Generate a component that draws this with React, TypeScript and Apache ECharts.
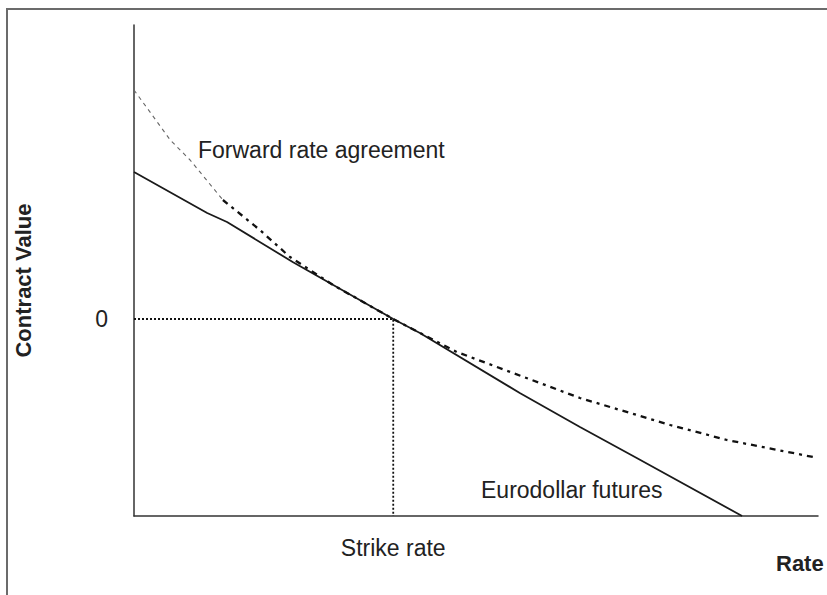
import React, { useEffect, useRef } from "react";
import * as echarts from "echarts";

// Rate axis positions (0..100) and contract values (0 = at strike)
const strikeRate = 37.9;
const rateMax = 100;
const valueMin = -19.7;
const valueMax = 29.4;

const euroRates = [0, 10.7, 13.6, 23.2, 37.9, 41.8, 56.4, 65.2, 73.5, 88.9];
const euroValues = [14.7, 10.6, 9.7, 5.7, 0, -1.4, -7.4, -10.8, -13.9, -19.7];

const fraUpperRates = [0, 5.3, 8.2, 13.0];
const fraUpperValues = [22.9, 17.9, 15.9, 11.9];

const fraLowerRates = [13.0, 18.4, 22.8, 29.1, 37.9, 47.2, 65.2, 78.4, 86.7, 99.3];
const fraLowerValues = [11.9, 8.9, 6.2, 3.4, 0, -3.3, -7.9, -10.6, -12.1, -13.8];

const yTickLabels = [0];
const xTickLabels = ["Strike rate"];

const FONT = "'Liberation Sans', Arial, sans-serif";
const TEXT = "#222";

export default function App() {
  const ref = useRef<HTMLDivElement>(null);
  useEffect(() => {
    if (!ref.current) return;
    const chart = echarts.init(ref.current, undefined, { renderer: "svg" });
    const pair = (xs: number[], ys: number[]) => xs.map((x, i) => [x, ys[i]]);
    chart.setOption({
      animation: false,
      backgroundColor: "#fff",
      grid: {
        left: 134,
        right: 9,
        top: 25,
        bottom: 79,
        containLabel: false,
        outerBoundsMode: "none",
      },
      xAxis: {
        type: "value",
        min: 0,
        max: rateMax,
        name: "Rate",
        nameLocation: "end",
        nameGap: -42,
        nameTextStyle: {
          fontFamily: FONT,
          fontSize: 22,
          fontWeight: "bold",
          color: TEXT,
          align: "left",
          verticalAlign: "top",
          padding: [36, 0, 0, 0],
        },
        axisLine: { show: true, onZero: false, lineStyle: { color: "#333", width: 1.5 } },
        axisTick: { show: false },
        splitLine: { show: false },
        axisLabel: {
          customValues: [strikeRate],
          formatter: () => xTickLabels[0],
          margin: 20,
          fontFamily: FONT,
          fontSize: 23,
          color: TEXT,
        },
      },
      yAxis: {
        type: "value",
        min: valueMin,
        max: valueMax,
        name: "Contract Value",
        nameLocation: "middle",
        nameRotate: 90,
        nameGap: 100,
        nameTextStyle: {
          fontFamily: FONT,
          fontSize: 22,
          fontWeight: "bold",
          color: TEXT,
          padding: [0, 20, 0, 0],
        },
        axisLine: { show: true, onZero: false, lineStyle: { color: "#333", width: 1.5 } },
        axisTick: { show: false },
        splitLine: { show: false },
        axisLabel: {
          customValues: yTickLabels,
          formatter: (v: number) => String(Math.round(v)),
          margin: 26,
          fontFamily: FONT,
          fontSize: 23,
          color: TEXT,
        },
      },
      graphic: [
        {
          type: "rect",
          z: -1,
          shape: { x: 7, y: 9, width: 1000, height: 800 },
          style: { fill: "none", stroke: "#6b6b6b", lineWidth: 2 },
        },
        {
          type: "text",
          left: 198,
          top: 138,
          style: {
            text: "Forward rate agreement",
            fontFamily: FONT,
            fontSize: 23,
            fill: TEXT,
          },
        },
        {
          type: "text",
          left: 481,
          top: 478,
          style: {
            text: "Eurodollar futures",
            fontFamily: FONT,
            fontSize: 23,
            fill: TEXT,
          },
        },
      ],
      series: [
        {
          name: "Strike reference",
          type: "line",
          symbol: "none",
          data: [
            [0, 0],
            [strikeRate, 0],
            [strikeRate, valueMin],
          ],
          lineStyle: { color: "#111", width: 1.8, type: [2, 2] },
        },
        {
          name: "Eurodollar futures",
          type: "line",
          symbol: "none",
          data: pair(euroRates, euroValues),
          lineStyle: { color: "#1a1a1a", width: 1.8 },
        },
        {
          name: "Forward rate agreement (upper)",
          type: "line",
          symbol: "none",
          data: pair(fraUpperRates, fraUpperValues),
          lineStyle: { color: "#666", width: 1.1, type: [4, 4] },
        },
        {
          name: "Forward rate agreement",
          type: "line",
          symbol: "none",
          data: pair(fraLowerRates, fraLowerValues),
          lineStyle: { color: "#111", width: 2.3, type: [6, 5, 3, 5] },
        },
      ],
    });
    return () => chart.dispose();
  }, []);
  return (
    <div
      ref={ref}
      style={{ position: "fixed", left: 0, top: 0, width: 827, height: 595 }}
    />
  );
}
